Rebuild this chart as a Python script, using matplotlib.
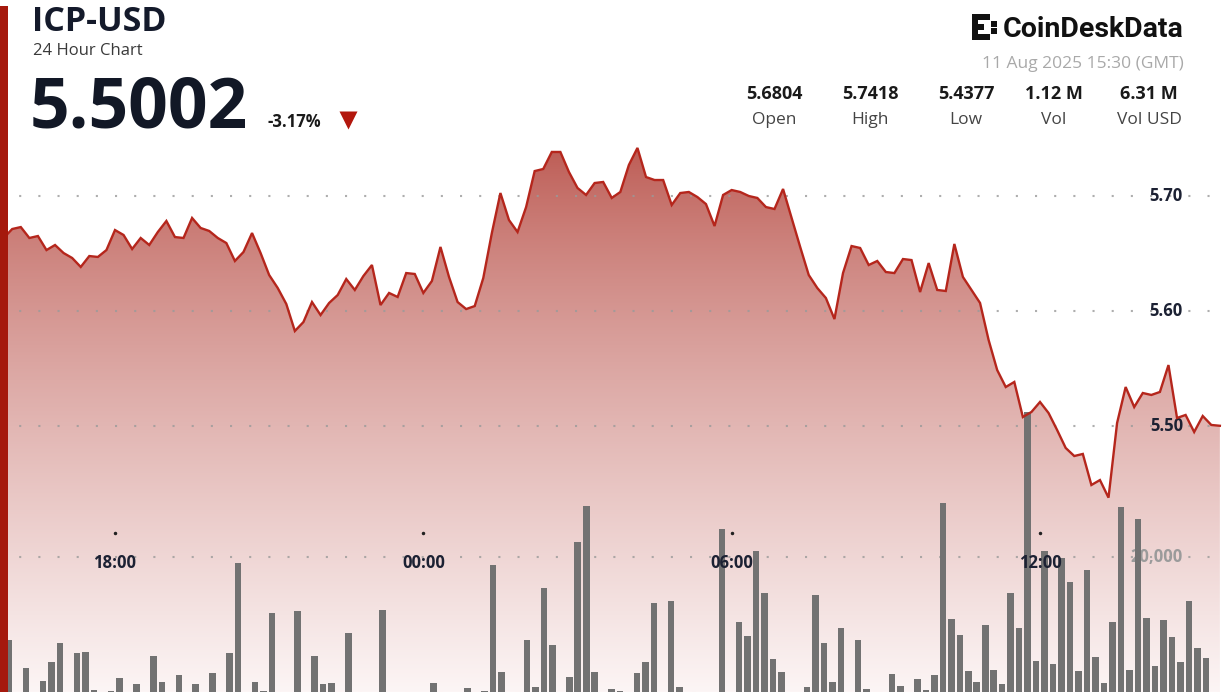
import numpy as np
import matplotlib
matplotlib.use('Agg')
import matplotlib.pyplot as plt
from matplotlib.patches import Polygon, Rectangle
from matplotlib.transforms import blended_transform_factory

plt.rcParams['font.family'] = ['Open Sans', 'DejaVu Sans']

# ICP-USD, 10 minute closes, 10 Aug 15:40 -> 11 Aug 15:30 (GMT)
prices = [
    5.6617, 5.6635, 5.6713, 5.6730, 5.6635, 5.6652, 5.6530, 5.6574, 5.6504, 5.6461,
    5.6383, 5.6478, 5.6470, 5.6530, 5.6704, 5.6661, 5.6539, 5.6635, 5.6574, 5.6687,
    5.6783, 5.6643, 5.6635, 5.6809, 5.6722, 5.6696, 5.6635, 5.6591, 5.6435, 5.6513,
    5.6678, 5.6504, 5.6313, 5.6200, 5.6061, 5.5826, 5.5904, 5.6078, 5.5965, 5.6070,
    5.6139, 5.6278, 5.6183, 5.6304, 5.6400, 5.6052, 5.6157, 5.6122, 5.6330, 5.6322,
    5.6157, 5.6261, 5.6557, 5.6296, 5.6078, 5.6017, 5.6043, 5.6287, 5.6678, 5.7026,
    5.6791, 5.6687, 5.6904, 5.7217, 5.7235, 5.7383, 5.7383, 5.7209, 5.7070, 5.7009,
    5.7113, 5.7122, 5.6983, 5.7035, 5.7270, 5.7418, 5.7165, 5.7139, 5.7139, 5.6922,
    5.7026, 5.7035, 5.6991, 5.6930, 5.6739, 5.7009, 5.7052, 5.7035, 5.7000, 5.6983,
    5.6904, 5.6887, 5.7061, 5.6809, 5.6557, 5.6313, 5.6200, 5.6113, 5.5930, 5.6330,
    5.6565, 5.6548, 5.6400, 5.6435, 5.6339, 5.6330, 5.6452, 5.6443, 5.6165, 5.6417,
    5.6183, 5.6174, 5.6583, 5.6296, 5.6183, 5.6070, 5.5748, 5.5487, 5.5339, 5.5383,
    5.5078, 5.5122, 5.5209, 5.5113, 5.4965, 5.4809, 5.4739, 5.4757, 5.4487, 5.4530,
    5.4377, 5.5026, 5.5339, 5.5165, 5.5287, 5.5270, 5.5296, 5.5530, 5.5070, 5.5096,
    5.4948, 5.5087, 5.5009, 5.5002,
]

volume = [
    0, 7700, 0, 3560, 0, 1630, 4440, 7260, 0, 5780,
    5930, 300, 0, 150, 2070, 0, 1190, 0, 5330, 1480,
    0, 2520, 0, 1190, 0, 2810, 0, 5780, 19110, 0,
    1480, 150, 11700, 0, 0, 12000, 0, 5330, 1190, 1330,
    0, 8740, 0, 0, 0, 12150, 0, 0, 0, 0,
    0, 1330, 0, 0, 0, 590, 0, 150, 18810, 2960,
    0, 0, 7700, 740, 15410, 6960, 0, 2220, 22220, 27560,
    2960, 0, 440, 150, 0, 2810, 4440, 13190, 0, 13480,
    740, 0, 0, 0, 0, 24150, 0, 10370, 8300, 20890,
    14670, 4890, 2960, 0, 0, 740, 14370, 7260, 1480, 9480,
    0, 7700, 440, 0, 0, 2670, 890, 0, 1930, 300,
    2520, 28000, 10810, 8440, 3110, 1480, 9930, 3260, 1190, 14670,
    9480, 41480, 4590, 20890, 4150, 19850, 16300, 3110, 18070, 5190,
    1330, 10370, 27410, 3260, 25630, 10960, 3850, 10670, 8150, 4440,
    13480, 6520, 5040, 0,
]

price_ticks = [5.50, 5.60, 5.70]
time_ticks = [18, 24, 30, 36]
time_labels = ['18:00', '00:00', '06:00', '12:00']

stat_values = ['5.6804', '5.7418', '5.4377', '1.12 M', '6.31 M']
stat_names = ['Open', 'High', 'Low', 'Vol', 'Vol USD']

hours = 15 + 40 / 60 + np.arange(len(prices)) / 6

W, H = 1222, 692
fig = plt.figure(figsize=(W / 100, H / 100), dpi=100)
fig.patch.set_facecolor('white')

rect = [0, 0, 1, 1 - 130 / H]
xlim = (15.7622, 39.5416)
ylim = (5.2687, 5.7574)

navy = '#1c2133'
dots = (0, (1, 8.2))

# --- price area (gradient) ---
ax = fig.add_axes(rect)
ax.set_xlim(*xlim)
ax.set_ylim(*ylim)
ax.axis('off')

top = np.array([184, 80, 72]) / 255
bot = np.array([252, 245, 245]) / 255
f = np.linspace(0, 1, 256)[:, None] ** 0.75
grad = top * (1 - f) + bot * f
grad = grad[:, None, :]
im = ax.imshow(grad, extent=[0, 1, 0, 1], transform=ax.transAxes,
               aspect='auto', zorder=1)
verts = np.column_stack([np.r_[hours[0], hours, hours[-1]],
                         np.r_[ylim[0], prices, ylim[0]]])
im.set_clip_path(Polygon(verts, closed=True, transform=ax.transData))

for p in price_ticks:
    ax.axhline(p, color='#9a9a9a', lw=1.5, ls=dots, zorder=2, alpha=0.8)
    ax.text(1183 / W, p, f'{p:.2f}', transform=blended_transform_factory(ax.transAxes, ax.transData),
            ha='right', va='center', fontsize=12, fontweight='bold', color=navy, zorder=3)

# --- volume bars ---
axv = fig.add_axes(rect)
axv.patch.set_alpha(0)
axv.set_xlim(-0.0602, 143.89)
axv.set_ylim(0, 83260)
axv.axis('off')
axv.axhline(20000, color='#9a9a9a', lw=1.5, ls=dots, zorder=1, alpha=0.8)
axv.text(1183 / W, 20000, '20,000', transform=blended_transform_factory(axv.transAxes, axv.transData),
         ha='right', va='center', fontsize=12, fontweight='bold', color='#9b9b9b', zorder=1)
axv.bar(np.arange(len(volume)), volume, width=0.77, color='#727272', zorder=2)

# --- price line + time axis ---
axl = fig.add_axes(rect)
axl.patch.set_alpha(0)
axl.set_xlim(*xlim)
axl.set_ylim(*ylim)
axl.axis('off')
axl.plot(hours, prices, color='#b5261c', lw=1.7, solid_joinstyle='miter', zorder=3)
tb = blended_transform_factory(axl.transData, axl.transAxes)
for t, lab in zip(time_ticks, time_labels):
    axl.text(t, (H - 563) / 562, lab, transform=tb, ha='center', va='center',
             fontsize=12, fontweight='bold', color=navy, zorder=4)
    axl.plot([t], [(H - 533) / 562], marker='o', ms=1.5, color='#222222',
             transform=tb, zorder=4)

# --- header overlay in pixel coords ---
hd = fig.add_axes([0, 0, 1, 1])
hd.patch.set_alpha(0)
hd.set_xlim(0, W)
hd.set_ylim(H, 0)
hd.axis('off')
hd.add_patch(Rectangle((0, 6), 8, H - 6, color='#a5190d', lw=0))

hd.text(32, 31, 'ICP-USD', fontsize=24.5, fontweight='bold', color='#141a2b', va='baseline')
hd.text(33, 55, '24 Hour Chart', fontsize=12, color='#3a3a3a', va='baseline')
hd.text(30, 127, '5.5002', fontsize=50, fontweight='bold', color='#121826', va='baseline')
hd.text(267, 127, '-3.17%', fontsize=12, fontweight='bold', color='#1a1a1a', va='baseline')
hd.plot(348, 120, marker='v', ms=13, color='#b3170d', mec='none')

# logo
sq = [(975, 17), (975, 22), (975, 27), (975, 32), (975, 37),
      (981, 17), (987, 17), (981, 37), (987, 37), (981, 27),
      (994, 24), (994, 31)]
hd.scatter([s[0] for s in sq], [s[1] for s in sq], marker='s', s=13, color='#111111', lw=0)
hd.text(1184, 37, 'CoinDeskData', fontsize=20.5, fontweight='bold', color='#111111',
        ha='right', va='baseline', family=['Roboto', 'DejaVu Sans'])
hd.text(1184, 68, '11 Aug 2025 15:30 (GMT)', fontsize=12.5, color='#a9a9a9',
        ha='right', va='baseline')

stat_x = [774, 870, 966, 1054, 1149]
for x, v, n in zip(stat_x, stat_values, stat_names):
    hd.text(x, 99, v, fontsize=13, fontweight='bold', color='#1a1a1a', ha='center', va='baseline')
    hd.text(x, 124, n, fontsize=12.5, color='#444444', ha='center', va='baseline')

fig.savefig('out.png', dpi=100, facecolor='white')
